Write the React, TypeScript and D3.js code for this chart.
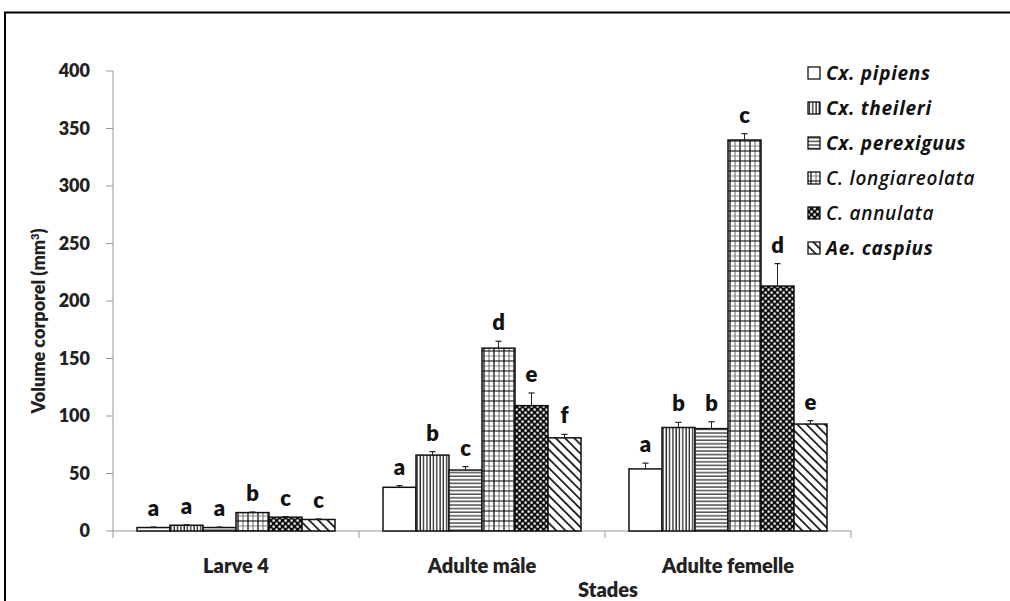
import React from "react";
import * as d3 from "d3";

const stages = ["Larve 4", "Adulte mâle", "Adulte femelle"];
const species = ["Cx. pipiens", "Cx. theileri", "Cx. perexiguus", "C. longiareolata", "C. annulata", "Ae. caspius"];
const legendBold = [true, true, true, false, false, true];
const patterns = ["pWhite", "pVert", "pHoriz", "pGrid", "pCheck", "pDiag"];

const larve4 = [3, 5, 3, 16, 12, 10];
const adulteMale = [38, 66, 53, 159, 109, 81];
const adulteFemelle = [54, 90, 89, 340, 213, 93];

const errLarve4 = [0.5, 0.5, 0.5, 0.5, 0.5, 0.5];
const errMale = [1.5, 3, 3, 6, 11, 3];
const errFemelle = [5, 4.5, 6, 5.5, 19.5, 3];

const lettersLarve4 = ["a", "a", "a", "b", "c", "c"];
const lettersMale = ["a", "b", "c", "d", "e", "f"];
const lettersFemelle = ["a", "b", "b", "c", "d", "e"];

const yTicks = [0, 50, 100, 150, 200, 250, 300, 350, 400];

const values = [larve4, adulteMale, adulteFemelle];
const errors = [errLarve4, errMale, errFemelle];
const letters = [lettersLarve4, lettersMale, lettersFemelle];

const W = 1010;
const H = 601;
const left = 113;
const right = 851;
const top = 71;
const bottom = 531;
const FONT = "Lato, 'Open Sans', sans-serif";
const LFONT = "'Open Sans', Lato, sans-serif";

export default function App() {
  const x0 = d3.scaleBand<string>().domain(stages).range([left, right]).paddingInner(0).paddingOuter(0);
  const groupW = 198;
  const x1 = d3.scaleBand<string>().domain(species).range([0, groupW]).padding(0);
  const y = d3.scaleLinear().domain([0, 400]).range([bottom, top]);

  return (
    <svg width={W} height={H} style={{ position: "absolute", left: 0, top: 0, background: "#fff" }}>
      <defs>
        <pattern id="pWhite" width="4" height="4" patternUnits="userSpaceOnUse">
          <rect width="4" height="4" fill="#fff" />
        </pattern>
        <pattern id="pVert" width="3.3" height="4" patternUnits="userSpaceOnUse">
          <rect width="3.3" height="4" fill="#fff" />
          <line x1="1" y1="0" x2="1" y2="4" stroke="#111" strokeWidth="1.2" />
        </pattern>
        <pattern id="pHoriz" width="4" height="3.6" patternUnits="userSpaceOnUse">
          <rect width="4" height="3.6" fill="#fff" />
          <line x1="0" y1="1" x2="4" y2="1" stroke="#111" strokeWidth="1.1" />
        </pattern>
        <pattern id="pGrid" width="10" height="10" patternUnits="userSpaceOnUse">
          <rect width="10" height="10" fill="#fff" />
          <line x1="1" y1="0" x2="1" y2="10" stroke="#111" strokeWidth="1.3" />
          <line x1="6" y1="0" x2="6" y2="10" stroke="#444" strokeWidth="0.8" />
          <line x1="0" y1="1" x2="10" y2="1" stroke="#111" strokeWidth="1.1" />
          <line x1="0" y1="6" x2="10" y2="6" stroke="#555" strokeWidth="0.7" />
        </pattern>
        <pattern id="pCheck" width="6" height="6" patternUnits="userSpaceOnUse">
          <rect width="6" height="6" fill="#111" />
          <rect x="0.5" y="0.5" width="2.2" height="2.2" fill="#fff" />
          <rect x="3.5" y="3.5" width="2.2" height="2.2" fill="#fff" />
        </pattern>
        <pattern id="pDiag" width="6.5" height="6.5" patternUnits="userSpaceOnUse" patternTransform="rotate(-45)">
          <rect width="6.5" height="6.5" fill="#fff" />
          <line x1="0" y1="0" x2="0" y2="6.5" stroke="#111" strokeWidth="3.4" />
        </pattern>
      </defs>

      {/* frame */}
      <line x1={4} y1={12.5} x2={W} y2={12.5} stroke="#000" strokeWidth={2} />
      <line x1={5} y1={12} x2={5} y2={H} stroke="#000" strokeWidth={2} />

      {/* y axis */}
      <line x1={left} y1={top} x2={left} y2={bottom} stroke="#999" strokeWidth={1} />
      {yTicks.map((t) => (
        <g key={t}>
          <line x1={left - 7} x2={left} y1={y(t)} y2={y(t)} stroke="#999" />
          <text x={90} y={y(t)} dy="0.35em" textAnchor="end" fontFamily={FONT} fontWeight={800} fontSize={18} fill="#222">
            {t}
          </text>
        </g>
      ))}
      <text
        transform={`translate(45,${(top + bottom) / 2 + 20}) rotate(-90)`}
        textAnchor="middle"
        fontFamily={FONT}
        fontWeight={800}
        fontSize={18}
        fill="#222"
      >
        Volume corporel (mm<tspan dy="-6" fontSize={11}>3</tspan>
        <tspan dy="6">)</tspan>
      </text>

      {/* x axis */}
      <line x1={left} y1={bottom} x2={right} y2={bottom} stroke="#999" strokeWidth={1} />
      {[...stages.map((s) => x0(s)!), right].map((tx, i) => (
        <line key={i} x1={tx} x2={tx} y1={bottom} y2={bottom + 7} stroke="#999" />
      ))}
      {stages.map((s) => (
        <text key={s} x={x0(s)! + x0.bandwidth() / 2} y={573} textAnchor="middle" fontFamily={FONT} fontWeight={800} fontSize={20} fill="#222">
          {s}
        </text>
      ))}
      <text x={608} y={597} textAnchor="middle" fontFamily={FONT} fontWeight={800} fontSize={20} fill="#222">
        Stades
      </text>

      {/* bars */}
      {stages.map((s, gi) => {
        const gx = x0(s)! + (x0.bandwidth() - groupW) / 2;
        return (
          <g key={s} transform={`translate(${gx},0)`}>
            {species.map((sp, si) => {
              const v = values[gi][si];
              const e = errors[gi][si];
              const bx = x1(sp)!;
              const bw = x1.bandwidth();
              const cx = bx + bw / 2;
              return (
                <g key={sp}>
                  <rect x={bx} y={y(v)} width={bw} height={bottom - y(v)} fill={`url(#${patterns[si]})`} stroke="#111" strokeWidth={1.5} />
                  <line x1={cx} x2={cx} y1={y(v)} y2={y(v + e)} stroke="#222" strokeWidth={1} />
                  <line x1={cx - 3} x2={cx + 3} y1={y(v + e)} y2={y(v + e)} stroke="#222" strokeWidth={1.2} />
                  <text x={cx} y={y(v + e) - 11} textAnchor="middle" fontFamily={FONT} fontWeight={800} fontSize={22} fill="#111">
                    {letters[gi][si]}
                  </text>
                </g>
              );
            })}
          </g>
        );
      })}

      {/* legend */}
      {species.map((sp, i) => {
        const ly = 73 + i * 35;
        return (
          <g key={sp}>
            <rect x={808} y={ly - 6} width={12} height={12} fill={`url(#${patterns[i]})`} stroke="#111" strokeWidth={1.3} />
            <text x={826} y={ly} dy="0.35em" fontFamily={LFONT} fontStyle="italic" fontWeight={legendBold[i] ? 700 : 600} fontSize={19} letterSpacing={0.7} fill="#111">
              {sp}
            </text>
          </g>
        );
      })}
    </svg>
  );
}
